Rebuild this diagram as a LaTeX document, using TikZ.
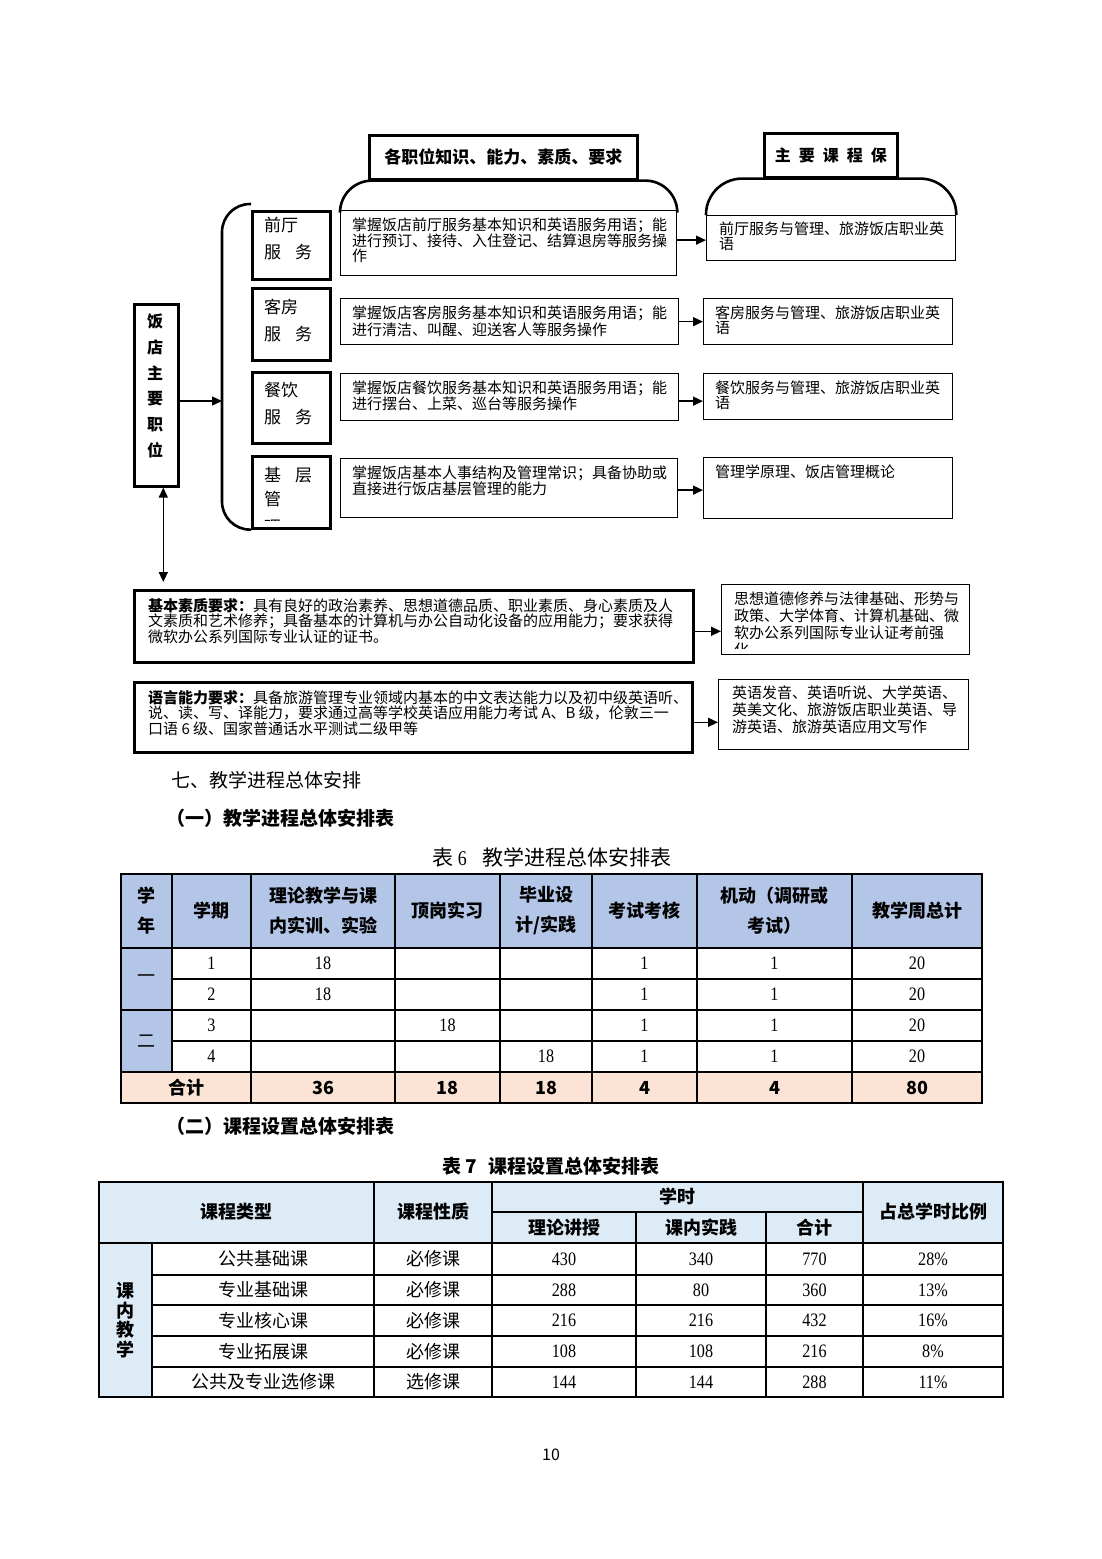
\documentclass[tikz,border=0pt]{standalone}
\usepackage{fontspec}
\setmainfont{Noto Sans CJK SC}
\newfontfamily\numfont[FakeStretch=0.85]{Liberation Serif}
\usetikzlibrary{arrows.meta,calc}
\definecolor{hblue}{HTML}{B4C6E7}
\definecolor{lblue}{HTML}{DDEBF7}
\definecolor{peach}{HTML}{FBE4D5}
\newcommand{\fsz}[2]{\fontsize{#1}{#2}\selectfont}
\begin{document}
\begin{tikzpicture}[x=1pt,y=-1pt]
\tikzset{
 bbox/.style={draw, line width=2.6pt, inner sep=0pt, anchor=north west},
 sbox/.style={draw, line width=1.3pt, inner sep=0pt, anchor=north west},
 txt/.style={anchor=north west, align=left, inner sep=0pt, font=\fsz{15}{15}},
 txtb/.style={anchor=north west, align=left, inner sep=0pt, font=\fsz{15}{15.5}},
 txtr/.style={anchor=north west, align=left, inner sep=0pt, font=\fsz{15}{17}},
 txtl/.style={anchor=north west, align=left, inner sep=0pt, font=\fsz{17}{27}},
 arr/.style={line width=1.4pt, -{Triangle[length=10pt,width=9pt]}},
 bracketline/.style={line width=2.6pt},
 cell/.style={inner sep=0pt, anchor=center},
 hd/.style={cell, font=\bfseries\fsz{18}{30}, align=center},
 num/.style={cell, font=\numfont\fsz{19}{19}},
 bnum/.style={cell, font=\bfseries\fsz{18}{18}},
 zh/.style={cell, font=\fsz{18}{18}},
}
\fill[white] (0,0) rectangle (1102,1559);
\useasboundingbox (0,0) rectangle (1102,1559);

% ---------- titles ----------
\node[bbox, minimum width=268pt, minimum height=44pt, font=\bfseries\fsz{17}{17}] (t1) at (368,134) {各职位知识、能力、素质、要求};
\node[bbox, minimum width=133pt, minimum height=44pt, font=\bfseries\fsz{16}{16}] (t2) at (763,132) {主\hspace{8pt}要\hspace{8pt}课\hspace{8pt}程\hspace{8pt}保};

% ---------- middle boxes ----------
\node[sbox, minimum width=336pt, minimum height=65pt] (m1) at (340,210) {};
\node[sbox, minimum width=338pt, minimum height=46pt] (m2) at (340,298) {};
\node[sbox, minimum width=338pt, minimum height=47pt] (m3) at (340,373) {};
\node[sbox, minimum width=337pt, minimum height=59pt] (m4) at (340,458) {};
\node[txt] (m1t) at (352,218) {掌握饭店前厅服务基本知识和英语服务用语；能\\进行预订、接待、入住登记、结算退房等服务操\\作};
\node[txt] (m2t) at (352,306) {掌握饭店客房服务基本知识和英语服务用语；能\\进行清洁、叫醒、迎送客人等服务操作};
\node[txt] (m3t) at (352,381) {掌握饭店餐饮服务基本知识和英语服务用语；能\\进行摆台、上菜、巡台等服务操作};
\node[txt] (m4t) at (352,466) {掌握饭店基本人事结构及管理常识；具备协助或\\直接进行饭店基层管理的能力};

% ---------- right boxes ----------
\node[sbox, minimum width=249pt, minimum height=45pt] (r1) at (706,215) {};
\node[sbox, minimum width=249pt, minimum height=46pt] (r2) at (703,298) {};
\node[sbox, minimum width=249pt, minimum height=46pt] (r3) at (703,373) {};
\node[sbox, minimum width=249pt, minimum height=61pt] (r4) at (703,457) {};
\node[txt] (r1t) at (719,222) {前厅服务与管理、旅游饭店职业英\\语};
\node[txt] (r2t) at (715,306) {客房服务与管理、旅游饭店职业英\\语};
\node[txt] (r3t) at (715,381) {餐饮服务与管理、旅游饭店职业英\\语};
\node[txt] (r4t) at (715,465) {管理学原理、饭店管理概论};

% arcs over the columns
\draw[bracketline, rounded corners=32pt] (m1.north west) |- (t1.south) -| (m1.north east);
\draw[bracketline, rounded corners=36pt] (r1.north west) |- (t2.south) -| (r1.north east);

% ---------- left boxes ----------
\node[bbox, minimum width=78pt, minimum height=68pt] (l1) at (251,210) {};
\node[bbox, minimum width=78pt, minimum height=72pt] (l2) at (251,287) {};
\node[bbox, minimum width=78pt, minimum height=71pt] (l3) at (251,371) {};
\node[bbox, minimum width=78pt, minimum height=72pt] (l4) at (251,455) {};
\node[txtl] (l1t) at (264,217) {前厅\\服\hspace{14pt}务};
\node[txtl] (l2t) at (264,299) {客房\\服\hspace{14pt}务};
\node[txtl] (l3t) at (264,382) {餐饮\\服\hspace{14pt}务};
\begin{scope}
\clip (252,456) rectangle (328,520);
\node[txtl, font=\fsz{17}{24.5}] (l4t) at (264,467) {基\hspace{14pt}层\\管\\[3pt]理};
\end{scope}

% ---------- main position box ----------
\node[bbox, minimum width=44pt, minimum height=182pt] (pos) at (133,303) {};
\node[inner sep=0pt, align=center, font=\bfseries\fsz{16}{25.7}] (post) at (155,386) {饭\\店\\主\\要\\职\\位};

\coordinate (brk) at (222,401);
\draw[bracketline, rounded corners=28pt] ([yshift=6pt]l1.north west) -| (brk) |- (l4.south west);
\draw[arr] (pos.east |- brk) -- (brk);

\draw[arr] ([yshift=3pt]m1.east) -- ([yshift=3pt]m1.east -| r1.west);
\draw[arr] (m2.east) -- (m2.east -| r2.west);
\draw[arr] ([yshift=-4pt]m3.east) -- ([yshift=-4pt]m3.east -| r3.west);
\draw[arr] ([yshift=-2pt]m4.east) -- ([yshift=-2pt]m4.east -| r4.west);

% ---------- bottom requirement boxes ----------
\node[bbox, minimum width=559pt, minimum height=72pt] (q1) at (133,589) {};
\node[bbox, minimum width=558pt, minimum height=70pt] (q2) at (133,681) {};
\node[sbox, minimum width=248pt, minimum height=70pt] (r5) at (721,584) {};
\node[sbox, minimum width=250pt, minimum height=70pt] (r6) at (718,679) {};

\node[txtb] (q1t) at (148,598) {\textbf{基本素质要求：}具有良好的政治素养、思想道德品质、职业素质、身心素质及人\\文素质和艺术修养；具备基本的计算机与办公自动化设备的应用能力；要求获得\\微软办公系列国际专业认证的证书。};
\node[txtb] (q2t) at (148,690) {\textbf{语言能力要求：}具备旅游管理专业领域内基本的中文表达能力以及初中级英语听、\\说、读、写、译能力，要求通过高等学校英语应用能力考试 A、B 级，伦敦三一\\口语 6 级、国家普通话水平测试二级甲等};
\begin{scope}
\clip (722,585) rectangle (968,648);
\node[txtr] (r5t) at (734,591.5) {思想道德修养与法律基础、形势与\\政策、大学体育、计算机基础、微\\软办公系列国际专业认证考前强\\化};
\end{scope}
\node[txtr] (r6t) at (732,686) {英语发音、英语听说、大学英语、\\英美文化、旅游饭店职业英语、导\\游英语、旅游英语应用文写作};

\draw[line width=1.4pt, {Triangle[length=10pt,width=9pt]}-{Triangle[length=10pt,width=9pt]}, shorten >=7pt] ([xshift=7pt]pos.south) -- ([xshift=7pt]pos.south |- q1.north);
\draw[arr] ([yshift=-5pt]q1.east) -- ([yshift=-5pt]q1.east -| r5.west);
\draw[arr] ([yshift=-5pt]q2.east) -- ([yshift=-5pt]q2.east -| r6.west);

% ---------- headings ----------
\node[anchor=west, inner sep=0pt, font=\fsz{19}{19}] (s7) at (171,780) {七、教学进程总体安排};
\node[anchor=west, inner sep=0pt, font=\bfseries\fsz{19}{19}] (s71) at (166,818) {（一）教学进程总体安排表};
\node[inner sep=0pt, font=\fsz{21}{21}] (cap6) at (552,857) {表 {\numfont 6}\hspace{16pt}教学进程总体安排表};

% ---------- table 6 ----------
\fill[hblue] (121,874) rectangle (982,948);
\fill[hblue] (121,948) rectangle (172,1072);
\fill[peach] (121,1072) rectangle (982,1103);
\begin{scope}[line width=1.6pt]
\draw (121,948) -- (982,948);
\draw (172,979) -- (982,979);
\draw (121,1010) -- (982,1010);
\draw (172,1041) -- (982,1041);
\draw (121,1072) -- (982,1072);
\draw (172,874) -- (172,1072);
\foreach \x in {251,395,500,592,697,852} \draw (\x,874) -- (\x,1103);
\end{scope}
\draw[line width=2.2pt] (121,874) rectangle (982,1103);

\node[hd] (h6a) at (146.5,911) {学\\年};
\node[hd] (h6b) at (211.5,911) {学期};
\node[hd] (h6c) at (323,911) {理论教学与课\\内实训、实验};
\node[hd] (h6d) at (447.5,911) {顶岗实习};
\node[hd] (h6e) at (546,911) {毕业设\\计/实践};
\node[hd] (h6f) at (644.5,911) {考试考核};
\node[hd] (h6g) at (774.5,911) {机动（调研或\\考试）};
\node[hd] (h6h) at (917,911) {教学周总计};

\node[zh, font=\fsz{18}{18}\itshape] (y1) at (146.5,979) {一};
\node[zh] (y2) at (146.5,1041) {二};

\node[num] (a1) at (211.5,963.5) {1};
\node[num] (a2) at (323,963.5) {18};
\node[num] (a5) at (644.5,963.5) {1};
\node[num] (a6) at (774.5,963.5) {1};
\node[num] (a7) at (917,963.5) {20};
\node[num] (b1) at (211.5,994.5) {2};
\node[num] (b2) at (323,994.5) {18};
\node[num] (b5) at (644.5,994.5) {1};
\node[num] (b6) at (774.5,994.5) {1};
\node[num] (b7) at (917,994.5) {20};
\node[num] (c1) at (211.5,1025.5) {3};
\node[num] (c3) at (447.5,1025.5) {18};
\node[num] (c5) at (644.5,1025.5) {1};
\node[num] (c6) at (774.5,1025.5) {1};
\node[num] (c7) at (917,1025.5) {20};
\node[num] (d1) at (211.5,1056.5) {4};
\node[num] (d4) at (546,1056.5) {18};
\node[num] (d5) at (644.5,1056.5) {1};
\node[num] (d6) at (774.5,1056.5) {1};
\node[num] (d7) at (917,1056.5) {20};

\node[bnum] (s0) at (186,1087.5) {合计};
\node[bnum] (s2) at (323,1087.5) {36};
\node[bnum] (s3) at (447.5,1087.5) {18};
\node[bnum] (s4) at (546,1087.5) {18};
\node[bnum] (s5) at (644.5,1087.5) {4};
\node[bnum] (s6) at (774.5,1087.5) {4};
\node[bnum] (s7n) at (917,1087.5) {80};

% ---------- section 2 ----------
\node[anchor=west, inner sep=0pt, font=\bfseries\fsz{19}{19}] (s72) at (166,1126) {（二）课程设置总体安排表};
\node[inner sep=0pt, font=\bfseries\fsz{19}{19}] (cap7) at (551,1166) {表 7\hspace{12pt}课程设置总体安排表};

% ---------- table 7 ----------
\fill[lblue] (99,1182) rectangle (1003,1243);
\fill[lblue] (99,1243) rectangle (152,1397);
\begin{scope}[line width=1.6pt]
\draw (492,1212) -- (863,1212);
\draw (99,1243) -- (1003,1243);
\foreach \y in {1275,1305,1336,1367} \draw (152,\y) -- (1003,\y);
\draw (152,1243) -- (152,1397);
\foreach \x in {374,492,863} \draw (\x,1182) -- (\x,1397);
\foreach \x in {636,766} \draw (\x,1212) -- (\x,1397);
\end{scope}
\draw[line width=2.2pt] (99,1182) rectangle (1003,1397);

\node[hd] (k1) at (236,1212) {课程类型};
\node[hd] (k2) at (433,1212) {课程性质};
\node[hd] (k3) at (677.5,1197) {学时};
\node[hd] (k4) at (564,1228) {理论讲授};
\node[hd] (k5) at (701,1228) {课内实践};
\node[hd] (k6) at (814.5,1228) {合计};
\node[hd] (k7) at (933,1212) {占总学时比例};
\node[hd, font=\bfseries\fsz{18}{19.5}] (k8) at (125,1320) {课\\内\\教\\学};

\node[zh] (e1a) at (263,1259) {公共基础课};
\node[zh] (e1b) at (433,1259) {必修课};
\node[num] (e1c) at (564,1259) {430};
\node[num] (e1d) at (701,1259) {340};
\node[num] (e1e) at (814.5,1259) {770};
\node[num] (e1f) at (933,1259) {28\%};

\node[zh] (e2a) at (263,1290) {专业基础课};
\node[zh] (e2b) at (433,1290) {必修课};
\node[num] (e2c) at (564,1290) {288};
\node[num] (e2d) at (701,1290) {80};
\node[num] (e2e) at (814.5,1290) {360};
\node[num] (e2f) at (933,1290) {13\%};

\node[zh] (e3a) at (263,1320.5) {专业核心课};
\node[zh] (e3b) at (433,1320.5) {必修课};
\node[num] (e3c) at (564,1320.5) {216};
\node[num] (e3d) at (701,1320.5) {216};
\node[num] (e3e) at (814.5,1320.5) {432};
\node[num] (e3f) at (933,1320.5) {16\%};

\node[zh] (e4a) at (263,1351.5) {专业拓展课};
\node[zh] (e4b) at (433,1351.5) {必修课};
\node[num] (e4c) at (564,1351.5) {108};
\node[num] (e4d) at (701,1351.5) {108};
\node[num] (e4e) at (814.5,1351.5) {216};
\node[num] (e4f) at (933,1351.5) {8\%};

\node[zh] (e5a) at (263,1382) {公共及专业选修课};
\node[zh] (e5b) at (433,1382) {选修课};
\node[num] (e5c) at (564,1382) {144};
\node[num] (e5d) at (701,1382) {144};
\node[num] (e5e) at (814.5,1382) {288};
\node[num] (e5f) at (933,1382) {11\%};

\node[inner sep=0pt, font=\fsz{16}{16}] (pg) at (551,1455) {10};
\end{tikzpicture}
\end{document}
